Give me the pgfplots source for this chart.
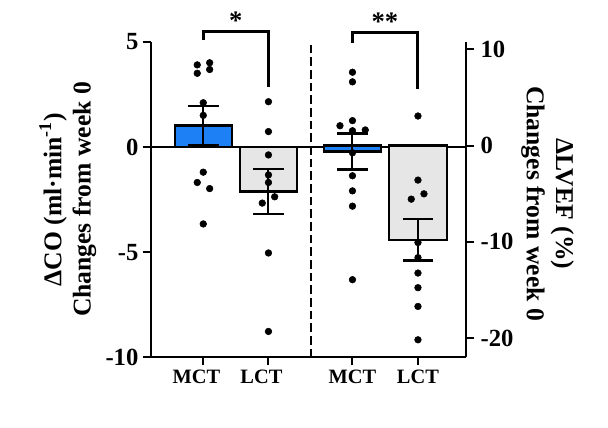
\documentclass[border=0pt]{standalone}
\usepackage{fontspec}
\setmainfont{Liberation Serif}
\usepackage{pgfplots}
\pgfplotsset{compat=1.18}
\definecolor{mctblue}{RGB}{30,128,245}
\definecolor{lctgray}{RGB}{230,230,230}
\pgfplotsset{
  common/.style={
    scale only axis, width=236.25pt, height=236.7pt,
    at={(0,0)}, anchor=south west,
    xmin=0, xmax=315,
    axis line style={line width=1.5pt},
    tick align=outside, major tick length=6pt,
    tick style={line width=1.5pt, black},
    tick label style={font=\fontsize{18.5}{20}\selectfont\bfseries},
    label style={font=\fontsize{19.2}{22}\selectfont\bfseries, align=center},
    clip=false,
  },
  barstyle/.style={ybar, bar width=57.5, bar shift=0pt, draw=black, line width=1.8pt,
    error bars/y dir=both, error bars/y explicit,
    error bars/error mark=-,
    error bars/error bar style={line width=1.5pt, black},
    error bars/error mark options={rotate=90, line width=1.8pt, mark size=11.6pt, black}},
  dots/.style={only marks, mark=*, mark size=2.5pt, black},
}
\begin{document}
\begin{tikzpicture}
\useasboundingbox (-113pt,-53pt) rectangle (343pt,268pt);
\begin{axis}[common,
  axis y line*=left, axis x line*=bottom,
  ymin=-10, ymax=5, ytick={-10,-5,0,5}, yticklabels={-10,-5,0,5},
  yticklabel style={inner xsep=3pt},
  xtick={52.8,117.8,201.8,267.3},
  xticklabels={\hspace*{-10.5pt}MCT,\hspace*{-10.5pt}LCT,MCT,LCT},
  xticklabel style={font=\fontsize{15.3}{18}\selectfont\bfseries},
  ylabel={ΔCO (ml·min\textsuperscript{-1})\\Changes from week 0},
  ylabel style={at={(axis description cs:-0.263,0.5)}, anchor=center},
]
\addplot[barstyle, fill=mctblue] coordinates {(52.8,1.02) +- (0,0.93)};
\addplot[barstyle, fill=lctgray] coordinates {(117.8,-2.12) +- (0,1.08)};
\addplot[dots] coordinates {
(46.6,3.9) (59.0,4.0) (46.6,3.5) (59.0,3.68) (52.6,2.1) (52.6,1.5)
(52.6,-1.2) (46.6,-1.69) (59.0,-1.98) (52.6,-3.66)};
\addplot[dots] coordinates {
(117.8,2.15) (117.8,0.73) (117.8,-0.38) (117.8,-1.33) (117.8,-1.69)
(124.0,-2.37) (111.6,-2.67) (117.8,-5.04) (117.8,-8.77)};
\draw[line width=1.5pt] (axis cs:0,0) -- (axis cs:315,0);
\draw[line width=1.1pt, dash pattern=on 6.5pt off 3pt] (axis cs:160.3,-10) -- (axis cs:160.3,5);
\draw[line width=2.4pt] (axis cs:52.6,5.08) -- (axis cs:52.6,5.48) -- (axis cs:117.6,5.48) -- (axis cs:117.6,2.83);
\node[font=\fontsize{20}{20}\selectfont\bfseries, anchor=base] at (axis cs:85.1,5.58) {*};
\draw[line width=2.4pt] (axis cs:201.6,4.95) -- (axis cs:201.6,5.43) -- (axis cs:267.0,5.43) -- (axis cs:267.0,2.74);
\node[font=\fontsize{20}{20}\selectfont\bfseries, anchor=base] at (axis cs:234.3,5.51) {**};
\end{axis}
\begin{axis}[common,
  axis y line*=right, axis x line=none,
  ymin=-22, ymax=10.8, ytick={-20,-10,0,10}, yticklabels={-20,-10,0,10},
  yticklabel style={inner xsep=5pt},
  ylabel={ΔLVEF (\%)\\Changes from week 0},
  ylabel style={at={(axis description cs:1.26,0.487)}, anchor=center, rotate=180},
]
\addplot[barstyle, fill=mctblue] coordinates {(201.8,-0.6) +- (0,1.88)};
\addplot[barstyle, fill=lctgray] coordinates {(267.3,-9.8) +- (0,2.15)};
\addplot[dots] coordinates {
(201.8,7.63) (201.8,6.63) (201.8,2.6) (189.3,2.07) (201.8,1.55) (214.6,1.63)
(201.8,-0.74) (201.8,-3.13) (201.8,-4.7) (201.8,-6.29) (201.8,-13.93)};
\addplot[dots] coordinates {
(267.3,3.08) (267.3,-3.58) (273.3,-5.01) (260.6,-5.56) (267.3,-10.07)
(267.3,-11.64) (267.3,-13.24) (267.3,-14.76) (267.3,-16.71) (267.3,-20.18)};
\end{axis}
\end{tikzpicture}
\end{document}
